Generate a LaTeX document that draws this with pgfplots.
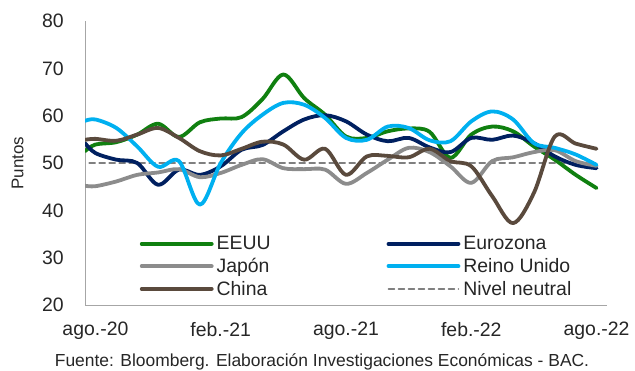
\documentclass[border=0pt]{standalone}
\usepackage{pgfplots}
\pgfplotsset{compat=1.18}
\usepackage{fontspec}
\setmainfont{Liberation Sans}

\definecolor{cEEUU}{RGB}{16,128,16}
\definecolor{cEuro}{RGB}{0,32,96}
\definecolor{cJapon}{RGB}{140,140,140}
\definecolor{cRU}{RGB}{0,176,240}
\definecolor{cChina}{RGB}{90,74,61}
\definecolor{cNeutral}{RGB}{128,128,128}
\definecolor{cAxis}{RGB}{166,166,166}
\definecolor{cText}{RGB}{38,38,38}

% Indices de gerentes de compras (puntos), mensual ago.-20 a ago.-22
\pgfplotstableread{
x     eeuu  euro  japon  ru    china
-0.5  52.5  54.2  45.2   58.9  54.9
0     53.9  52.1  45.1   59.2  55.1
1     54.4  50.7  46.1   57.4  54.7
2     56.0  50.0  47.5   53.5  56.0
3     58.3  45.4  48.0   49.2  57.4
4     55.5  48.6  48.7   50.4  55.3
5     58.6  47.5  47.0   41.2  52.5
6     59.4  49.3  47.9   50.0  51.6
7     59.7  52.8  49.6   56.3  53.0
8     63.5  53.8  50.8   60.2  54.5
9     68.7  56.7  48.9   62.7  53.9
10    63.7  59.2  48.7   62.3  50.7
11    60.2  60.1  48.6   59.5  53.0
12    55.6  58.8  45.6   55.3  47.5
13    55.3  56.0  47.9   54.9  51.4
14    56.7  54.6  50.7   57.7  51.5
15    57.3  55.3  53.2   57.4  51.2
16    56.6  53.3  52.3   54.8  53.0
17    51.1  52.3  49.3   54.6  50.4
18    56.0  55.3  45.8   58.8  49.3
19    57.7  54.9  50.4   60.9  43.0
20    56.7  55.8  51.2   59.2  37.3
21    53.5  54.2  52.3   54.2  43.7
22    50.7  51.4  52.7   53.2  55.6
23    47.5  49.6  50.4   51.8  54.1
24    44.7  48.9  49.4   49.6  53.0
}\pmidata

\pgfplotstableread{
x     y
-0.3  50
24.0  50
}\neutral

\begin{document}
\begin{tikzpicture}[x=1bp,y=1bp]
\useasboundingbox (0,0) rectangle (635,370);
\begin{axis}[
  at={(85bp,65bp)}, anchor=south west,
  scale only axis, width=522bp, height=284bp,
  xmin=-0.5, xmax=24.5, ymin=20, ymax=80,
  axis x line*=bottom, axis y line*=left,
  axis line style={draw=cAxis, line width=1bp, -},
  major tick length=0pt,
  xtick={0,6,12,18,24},
  xticklabels={ago.-20,feb.-21,ago.-21,feb.-22,ago.-22},
  ytick={20,30,...,80},
  tick label style={font=\fontsize{19.5}{21}\selectfont, text=cText},
  /pgf/number format/assume math mode=true,
  yticklabel style={inner sep=0pt, xshift=-21bp},
  xticklabel style={inner sep=0pt, yshift=-17bp},
  ylabel={Puntos},
  every axis y label/.style={at={(axis description cs:-0.129,0.5)}, rotate=90, anchor=center,
    font=\fontsize{17}{19}\selectfont, text=cText},
  legend columns=2,
  legend cell align=left,
  legend image code/.code={\draw[#1] (0bp,0bp) -- (70bp,0bp);},
  legend style={draw=none, fill=none, inner sep=0pt, outer sep=0pt,
    at={(rel axis cs:0.105,0.245)}, anchor=north west,
    font=\fontsize{19.5}{21}\selectfont, text=cText,
    row sep=5bp,
    nodes={inner xsep=3bp, inner ysep=1bp},
    /tikz/column 2/.style={column sep=113bp}},
  every axis plot/.append style={line width=3.8bp, smooth, tension=0.55, line cap=round, line join=round},
]
\addplot[cNeutral, line width=1.5bp, dash pattern=on 6bp off 4bp, smooth=false, forget plot] table[x=x,y=y]{\neutral};
\addplot[cEEUU]   table[x=x,y=eeuu]{\pmidata};  \addlegendentry{EEUU}
\addplot[cEuro]   table[x=x,y=euro]{\pmidata};  \addlegendentry{Eurozona}
\addplot[cJapon]  table[x=x,y=japon]{\pmidata}; \addlegendentry{Japón}
\addplot[cRU]     table[x=x,y=ru]{\pmidata};    \addlegendentry{Reino Unido}
\addplot[cChina]  table[x=x,y=china]{\pmidata}; \addlegendentry{China}
\addlegendimage{cNeutral, line width=1.5bp, dash pattern=on 6bp off 4bp}
\addlegendentry{Nivel neutral}
\end{axis}
\node[anchor=base, font=\fontsize{17.5}{19}\selectfont, text=cText] at (322,4) {Fuente: Bloomberg. Elaboración Investigaciones Económicas - BAC.};
\end{tikzpicture}
\end{document}
